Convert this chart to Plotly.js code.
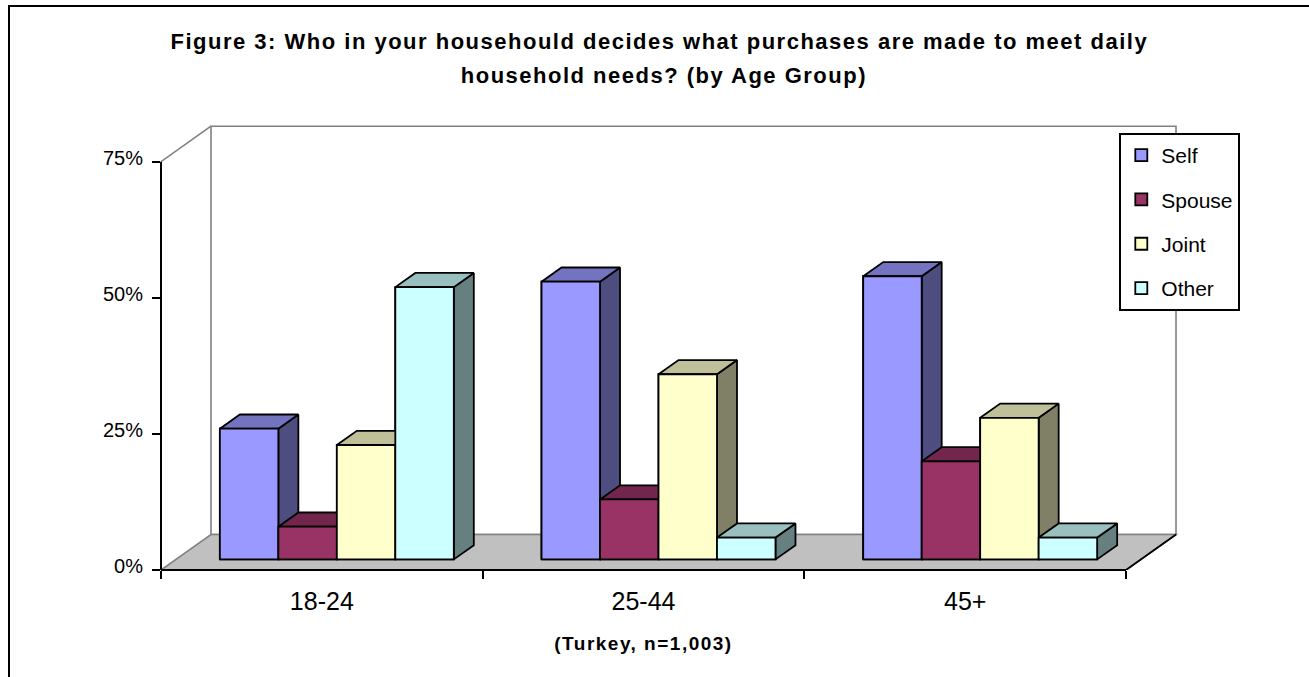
<!DOCTYPE html>
<html>
<head>
<meta charset="utf-8">
<script src="https://cdn.plot.ly/plotly-3.0.1.min.js"></script>
<style>
  html, body { margin: 0; padding: 0; background: #fff; }
  #chart { width: 1309px; height: 677px; }
  /* spaced lettering for the bold captions */
  #chart .annotation-text { letter-spacing: 1.5px; }
</style>
</head>
<body>
<div id="chart"></div>
<script>
// Age groups along the category axis
const ageGroups = ['18-24', '25-44', '45+'];
// Share of respondents (%) in each age group
const selfShare   = [24, 51, 52];
const spouseShare = [6, 11, 18];
const jointShare  = [21, 34, 26];
const otherShare  = [50, 4, 4];
const seriesNames = ['Self', 'Spouse', 'Joint', 'Other'];
const yTickVals = [0, 25, 50, 75];
const yTickText = ['0%', '25%', '50%', '75%'];

const titleLine1 = 'Figure 3: Who in your househould decides what purchases are made to meet daily';
const titleLine2 = 'household needs? (by Age Group)';
const sampleNote = '(Turkey, n=1,003)';

const seriesValues = [selfShare, spouseShare, jointShare, otherShare];

// ---- page geometry (px) ----
const W = 1309, H = 677;
const PLOT_L = 161, PLOT_R = 1205, PLOT_T = 115, PLOT_B = 570.5;
const PLOT_W = PLOT_R - PLOT_L, PLOT_H = PLOT_B - PLOT_T;
const PX_PER_CAT = 321.67;   // width of one age group on the floor
const PX_PER_PCT = 5.4507;   // height of one percentage point
const X_MAX = PLOT_W / PX_PER_CAT;
const Y_MAX = PLOT_H / PX_PER_PCT;
const paperX = px => (px - PLOT_L) / PLOT_W;
const paperY = py => (PLOT_B - py) / PLOT_H;

// oblique depth of the floor, in axis units
const DEPTH_X = 50 / PX_PER_CAT;
const DEPTH_Y = 35.5 / PX_PER_PCT;
const FRONT_GAP = 0.3, BAR_DEPTH = 0.4;   // fractions of the floor depth
const BAR_W = 1 / 5.5;                   // four bars plus a 150% gap
const GROUP_PAD = 0.75 * BAR_W;
const BASE = FRONT_GAP * DEPTH_Y;
const BX = BAR_DEPTH * DEPTH_X, BY = BAR_DEPTH * DEPTH_Y;

const FONT = 'Liberation Sans, Arial, sans-serif';
const frontColors = ['#9999FF', '#993366', '#FFFFCC', '#CCFFFF'];
const topColors   = ['#7373BF', '#73264D', '#BFBF99', '#99BFBF'];
const sideColors  = ['#4D4D80', '#4D1A33', '#808066', '#668080'];
const EDGE = {color: '#000', width: 1.8};

const barLeft = (s, j) => j + GROUP_PAD + s * BAR_W + FRONT_GAP * DEPTH_X;

const traces = [];

// front faces as real bars (also provide the legend swatches)
seriesNames.forEach((name, s) => {
  traces.push({
    type: 'bar', name: name, legendgroup: name,
    x: ageGroups.map((_, j) => barLeft(s, j) + BAR_W / 2),
    y: seriesValues[s],
    base: BASE, width: BAR_W,
    marker: {color: frontColors[s], line: EDGE},
    hoverinfo: 'skip'
  });
});

// boxes redrawn face by face, left to right, so nearer faces cover farther ones
function faceTrace(s, kind) {
  const xs = [], ys = [];
  seriesValues[s].forEach((v, j) => {
    const x0 = barLeft(s, j), x1 = x0 + BAR_W;
    const b = BASE, t = BASE + v;
    let pts;
    if (kind === 'side') pts = [[x1, b], [x1 + BX, b + BY], [x1 + BX, t + BY], [x1, t]];
    else if (kind === 'top') pts = [[x0, t], [x1, t], [x1 + BX, t + BY], [x0 + BX, t + BY]];
    else pts = [[x0, b], [x1, b], [x1, t], [x0, t]];
    pts.push(pts[0]);
    pts.forEach(p => { xs.push(p[0]); ys.push(p[1]); });
    xs.push(null); ys.push(null);
  });
  const fill = kind === 'side' ? sideColors[s] : kind === 'top' ? topColors[s] : frontColors[s];
  return {
    type: 'scatter', mode: 'lines', x: xs, y: ys,
    fill: 'toself', fillcolor: fill, line: EDGE,
    legendgroup: seriesNames[s], showlegend: false, hoverinfo: 'skip'
  };
}
seriesNames.forEach((_, s) => {
  traces.push(faceTrace(s, 'side'), faceTrace(s, 'top'), faceTrace(s, 'front'));
});

const nCat = ageGroups.length;
const WALL = {color: '#808080', width: 1.6};

const shapes = [
  // outer frame
  {type: 'path', xref: 'paper', yref: 'paper', layer: 'above',
   path: `M${paperX(9)},${paperY(700)} L${paperX(9)},${paperY(6)} L${paperX(1330)},${paperY(6)}`,
   line: {color: '#000', width: 2}},
  // back wall
  {type: 'rect', xref: 'x', yref: 'y', layer: 'below',
   x0: DEPTH_X, x1: nCat + DEPTH_X, y0: DEPTH_Y, y1: 75 + DEPTH_Y,
   fillcolor: '#fff', line: WALL},
  // side wall top edge
  {type: 'line', xref: 'x', yref: 'y', layer: 'below',
   x0: 0, y0: 75, x1: DEPTH_X, y1: 75 + DEPTH_Y, line: WALL},
  // floor
  {type: 'path', xref: 'x', yref: 'y', layer: 'below',
   path: `M0,0 L${nCat},0 L${nCat + DEPTH_X},${DEPTH_Y} L${DEPTH_X},${DEPTH_Y} Z`,
   fillcolor: '#C0C0C0', line: WALL},
  {type: 'line', xref: 'x', yref: 'y', layer: 'below',
   x0: nCat, y0: 0, x1: nCat + DEPTH_X, y1: DEPTH_Y, line: {color: '#000', width: 1.8}},
  // value axis line
  {type: 'line', xref: 'paper', yref: 'y', layer: 'above',
   x0: 0, x1: 0, y0: 0, y1: 75, line: {color: '#000', width: 2}},
  // category axis line
  {type: 'line', xref: 'x', yref: 'paper', layer: 'above',
   x0: 0, x1: nCat, y0: 0, y1: 0, line: {color: '#000', width: 2}}
];

const annotations = [
  {text: titleLine1, xref: 'paper', yref: 'paper', x: paperX(659), y: paperY(41.5),
   xanchor: 'center', yanchor: 'middle', showarrow: false,
   font: {family: FONT, size: 22, weight: 'bold', color: '#000'}},
  {text: titleLine2, xref: 'paper', yref: 'paper', x: paperX(664), y: paperY(75),
   xanchor: 'center', yanchor: 'middle', showarrow: false,
   font: {family: FONT, size: 22, weight: 'bold', color: '#000'}},
  {text: sampleNote, xref: 'x', yref: 'paper', x: nCat / 2, y: paperY(644),
   xanchor: 'center', yanchor: 'middle', showarrow: false,
   font: {family: FONT, size: 19, weight: 'bold', color: '#000'}}
];

const layout = {
  width: W, height: H, autosize: false,
  margin: {l: PLOT_L, r: W - PLOT_R, t: PLOT_T, b: H - PLOT_B, pad: 0},
  paper_bgcolor: '#fff', plot_bgcolor: 'rgba(0,0,0,0)',
  barmode: 'overlay',
  font: {family: FONT, color: '#000'},
  xaxis: {
    range: [0, X_MAX], showgrid: false, zeroline: false, showline: false,
    tickmode: 'array',
    tickvals: ageGroups.map((_, j) => j + 0.5), ticktext: ageGroups,
    ticks: '', ticklabelstandoff: 14,
    tickfont: {family: FONT, size: 25, color: '#000'},
    minor: {tickvals: ageGroups.map((_, j) => j).concat([nCat]), ticks: 'outside',
            ticklen: 8, tickwidth: 2, tickcolor: '#000', showgrid: false},
    fixedrange: true
  },
  yaxis: {
    range: [0, Y_MAX], showgrid: false, zeroline: false, showline: false,
    tickmode: 'array', tickvals: yTickVals, ticktext: yTickText,
    ticks: 'outside', ticklen: 8, ticklabelshift: -4, ticklabelstandoff: 5,
    tickwidth: 2, tickcolor: '#000', tickfont: {family: FONT, size: 20, color: '#000'},
    fixedrange: true
  },
  legend: {
    x: paperX(1119.3), y: paperY(133), xanchor: 'left', yanchor: 'top',
    bgcolor: '#fff', bordercolor: '#000', borderwidth: 2,
    font: {family: FONT, size: 21, color: '#000'},
    traceorder: 'grouped', tracegroupgap: 14
  },
  shapes: shapes,
  annotations: annotations,
  showlegend: true
};

Plotly.newPlot('chart', traces, layout, {staticPlot: true, displayModeBar: false});
</script>
</body>
</html>
